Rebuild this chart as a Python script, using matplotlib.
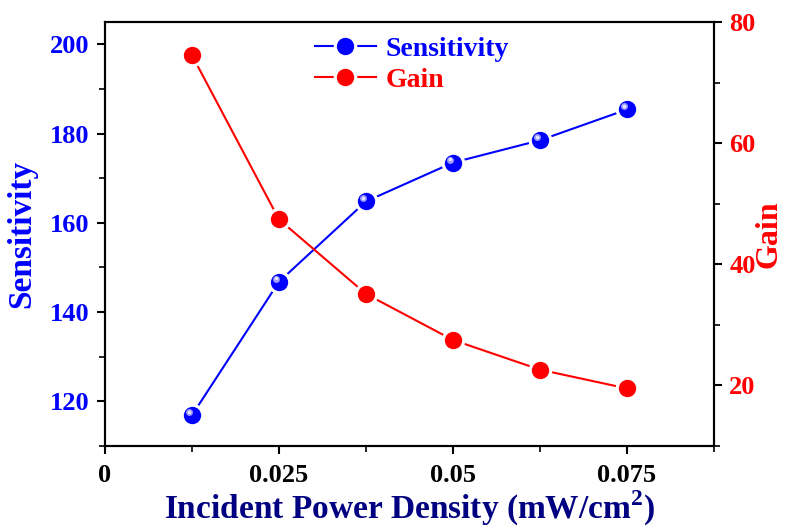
import numpy as np
import matplotlib
matplotlib.use('Agg')
import matplotlib.pyplot as plt
from matplotlib.ticker import MultipleLocator
import matplotlib.transforms as mtransforms

plt.rcParams['font.family'] = 'Liberation Serif'
plt.rcParams['font.weight'] = 'bold'
plt.rcParams['mathtext.fontset'] = 'custom'
plt.rcParams['mathtext.rm'] = 'Liberation Serif:bold'
plt.rcParams['mathtext.bf'] = 'Liberation Serif:bold'

power = [0.0125, 0.025, 0.0375, 0.05, 0.0625, 0.075]
sensitivity = [116.9, 146.8, 164.8, 173.5, 178.5, 185.4]
gain = [74.5, 47.4, 35.1, 27.5, 22.6, 19.5]
xtick_vals = [0, 0.025, 0.05, 0.075]
xtick_text = ['0', '0.025', '0.05', '0.075']

fig = plt.figure(figsize=(7.87, 5.29), dpi=100)
ax1 = fig.add_axes([105/787, 83/529, 609/787, 424/529])
ax2 = ax1.twinx()

def series(ax, y, c):
    l, = ax.plot(power, y, color=c, lw=1.5, zorder=2)
    w, = ax.plot(power, y, ls='none', marker='o', ms=17, mfc='white', mec='none', zorder=3)
    m, = ax.plot(power, y, ls='none', marker='o', ms=12.5, mfc=c, mec='none', zorder=4)
    return l, w, m

# sensitivity (blue spheres)
h1 = series(ax1, sensitivity, 'blue')
hl = mtransforms.offset_copy(ax1.transData, fig=fig, x=-2.2, y=2.2, units='points')
ax1.plot(power, sensitivity, ls='none', marker='o', ms=5, mfc='#9a9aff',
         mec='none', transform=hl, zorder=5)
hl2 = mtransforms.offset_copy(ax1.transData, fig=fig, x=-2.4, y=2.4, units='points')
ax1.plot(power, sensitivity, ls='none', marker='o', ms=2.5, mfc='#e8e8ff',
         mec='none', transform=hl2, zorder=6)

# gain (red dots)
h2 = series(ax2, gain, 'red')

ax1.set_xlim(0, 0.0875)
ax1.set_ylim(110, 205)
ax2.set_ylim(10, 80)

ax1.set_xticks(xtick_vals)
ax1.set_xticklabels(xtick_text)
ax1.xaxis.set_minor_locator(MultipleLocator(0.0125))
ax1.yaxis.set_major_locator(MultipleLocator(20))
ax1.yaxis.set_minor_locator(MultipleLocator(10))
ax2.yaxis.set_major_locator(MultipleLocator(20))
ax2.yaxis.set_minor_locator(MultipleLocator(10))

for ax in (ax1, ax2):
    for s in ax.spines.values():
        s.set_linewidth(1.5)
    ax.tick_params(which='major', direction='out', length=6, width=1.5, labelsize=19)
    ax.tick_params(which='minor', direction='out', length=4, width=1.2)

ax1.tick_params(axis='y', labelcolor='blue', pad=5)
ax2.tick_params(axis='y', labelcolor='red', pad=5)
ax1.tick_params(axis='x', labelcolor='black', pad=7)

ax1.set_ylabel('Sensitivity', color='blue', fontsize=24, fontweight='bold', labelpad=9)
ax2.set_ylabel('Gain', color='red', fontsize=23, fontweight='bold', labelpad=-1)
ax1.set_xlabel('Incident Power Density (mW/cm$^{2}$)', color='#000080',
               fontsize=24, fontweight='bold', labelpad=1)

leg = ax1.legend(handles=[h1, h2], labels=['Sensitivity', 'Gain'],
                 loc='upper center', frameon=False, fontsize=20,
                 handlelength=2.2, handletextpad=0.35, labelspacing=0.2,
                 bbox_to_anchor=(0.504, 1.025))
for t, c in zip(leg.get_texts(), ['blue', 'red']):
    t.set_color(c)

plt.savefig('out.png', dpi=100)
